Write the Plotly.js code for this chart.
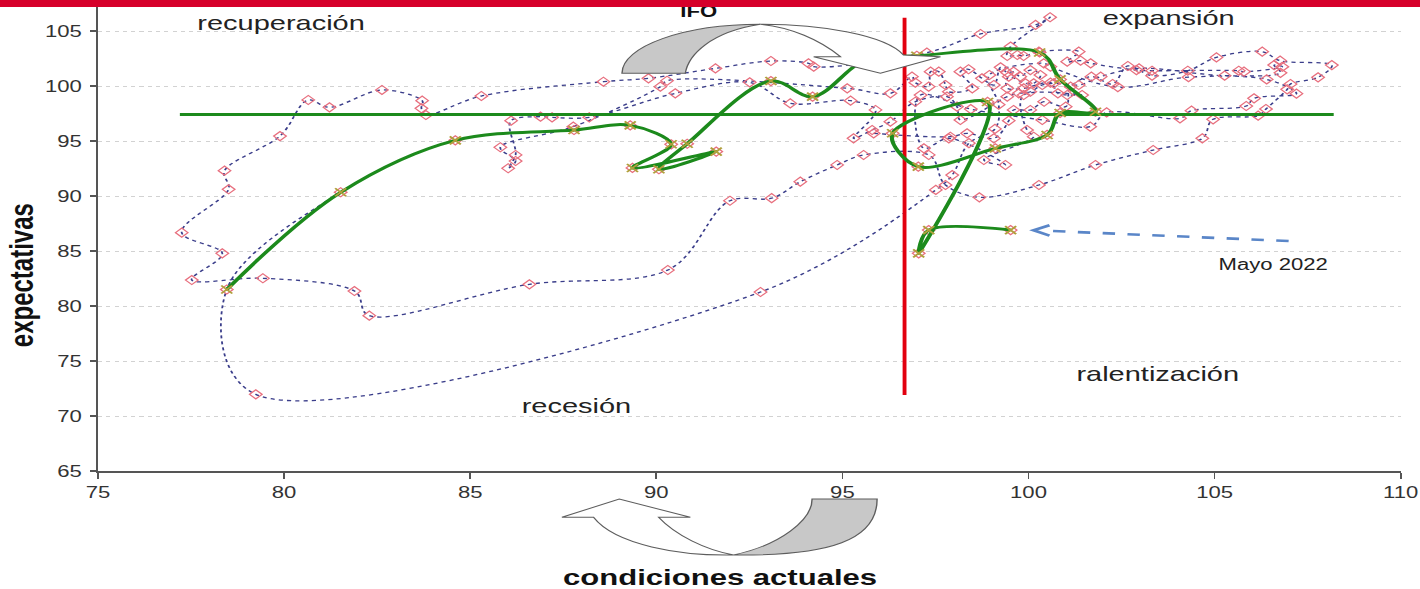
<!DOCTYPE html>
<html><head><meta charset="utf-8">
<script src="https://cdn.plot.ly/plotly-3.0.1.min.js"></script>
<style>
html,body{margin:0;padding:0;background:#fff;overflow:hidden;}
#wrap{position:absolute;left:0;top:0;width:1420px;height:589px;overflow:hidden;background:#fff;}
#plot{position:absolute;left:0;top:0;transform-origin:0 0;}
#bar{position:absolute;left:0;top:0;width:1420px;height:7px;background:#d6002a;z-index:10;}
</style></head><body>
<div id="wrap"><div id="plot"></div><div id="bar"></div></div>
<script>
// ---- data: business climate clock (condiciones actuales vs expectativas) ----
const histCur = [95.84,97.90,98.35,99.07,99.47,99.60,100.05,100.42,101.00,101.13,101.69,102.26,102.67,103.32,104.28,105.05,106.28,106.76,108.15,107.78,107.04,106.95,106.38,106.17,104.96,104.67,103.35,101.80,100.28,98.68,97.77,97.32,95.57,94.86,93.87,93.10,91.98,90.31,86.59,82.29,81.89,79.43,77.52,78.34,77.25,78.51,78.40,79.89,80.65,81.22,82.63,83.71,83.69,83.81,85.30,88.58,89.79,91.59,93.08,94.09,94.23,97.27,98.71,100.19,100.58,99.52,99.43,99.70,99.87,100.28,101.35,101.04,101.40,101.67,102.90,103.32,105.65,105.79,106.82,106.60,106.77,105.27,102.97,101.94,101.35,100.68,100.37,100.05,99.74,99.43,98.17,98.08,97.81,96.96,96.29,95.80,95.30,95.89,95.22,93.60,92.51,90.51,88.20,87.20,86.89,86.10,86.22,86.02,86.22,85.81,87.77,90.11,90.29,95.13,96.29,96.87,96.96,97.32,97.37,97.59,97.77,97.86,98.49,98.17,98.39,98.75,99.07,99.25,99.43,99.60,99.78,100.05,100.32,100.14,99.92,99.47,99.43,99.87,100.59,100.79,101.04,101.44,99.87,99.96,100.14,98.80,99.38,97.86,97.19,97.10,98.45,100.37,101.66,102.10,104.07,104.38,105.85,106.06,107.20,106.40,104.30,102.40,100.59,100.41,98.95,99.20,99.10,98.40,97.95,97.51,92.80,79.24];
const histExp = [95.70,95.39,95.70,95.24,96.85,97.82,97.82,98.57,98.12,99.94,100.85,100.18,101.82,100.94,101.39,102.60,103.12,102.30,101.90,100.79,100.18,99.70,97.91,97.30,96.97,95.24,94.18,92.82,91.00,89.88,91.00,93.73,93.73,92.82,91.30,89.80,89.57,83.27,81.97,79.12,81.36,82.52,82.36,84.79,86.67,90.61,92.30,95.45,98.73,98.06,99.64,98.67,97.97,97.36,99.09,100.39,100.70,101.60,102.27,102.06,101.76,103.03,104.73,105.55,106.25,103.58,102.73,102.82,102.73,103.12,103.12,102.21,102.30,102.06,101.45,101.39,101.39,101.30,101.75,101.90,101.20,100.94,101.60,100.85,100.09,100.24,100.09,99.48,99.33,99.03,96.91,98.12,99.03,98.57,96.76,96.00,95.24,97.82,98.67,98.42,100.33,99.33,97.15,97.15,97.21,96.85,93.73,92.52,93.18,94.43,96.30,99.94,100.48,99.79,99.33,100.85,100.30,99.94,101.30,101.30,100.09,99.48,99.79,101.30,101.52,100.70,100.09,101.70,101.21,101.30,100.85,101.45,101.00,100.24,100.24,100.85,99.79,99.79,100.30,99.33,99.18,99.18,99.18,96.00,95.39,93.27,92.82,95.24,94.33,99.18,97.90,96.91,96.30,97.60,97.06,97.76,98.18,98.88,99.30,100.60,100.80,99.90,101.76,102.06,101.00,98.30,96.10,94.80,91.90,90.55,81.27,71.97];
// last 25 months (highlighted, ending May 2022)
const recentCur = [78.46,81.52,84.60,87.79,89.30,90.40,89.36,91.61,90.07,90.83,93.08,94.20,95.60,97.00,100.30,100.85,101.80,100.85,100.50,99.11,97.04,96.35,98.90,97.05,97.32,99.52];
const recentExp = [81.50,90.34,95.06,96.00,96.42,94.70,92.55,94.04,92.43,94.75,100.45,99.03,102.30,102.75,103.05,100.60,97.66,97.55,95.55,94.33,92.67,95.70,98.55,84.79,86.90,86.90];
// reference levels
const avgExp = 97.4, avgExpSpan = [77.2, 108.2];
const avgCur = 96.67, avgCurSpan = [71.9, 106.2];
const xTicks = [75,80,85,90,95,100,105,110];
const yTicks = [65,70,75,80,85,90,95,100,105];
const quadrantLabels = ['recuperación','expansión','recesión','ralentización'];
const lastLabel = 'Mayo 2022';
const xTitle = 'condiciones actuales', yTitle = 'expectativas', chartTitle = 'IFO';

// ---- geometry (final pixels) ----
const S = 1.38;
const W0 = 1420 / S;
const PL = 98, PR = 1400, PT = 7, PB = 471;
const fx = p => (p - PL) / (PR - PL);
const fy = p => (PB - p) / (PB - PT);
const P = (x, y) => fx(x).toFixed(5) + ',' + fy(y).toFixed(5);
const FONT = 'Liberation Sans, Arial, sans-serif';

const traces = [
  {x: histCur.concat(recentCur), y: histExp.concat(recentExp), type:'scatter', mode:'lines+markers',
   line:{shape:'spline', smoothing:1, dash:'dot', color:'#3a3d8a', width:1.3},
   marker:{symbol:'diamond-open', size:7, color:'#e8707f', line:{width:1.1}}, hoverinfo:'skip'},
  {x: avgExpSpan, y:[avgExp, avgExp], type:'scatter', mode:'lines', line:{color:'#1c8a1c', width:3}, hoverinfo:'skip'},
  {x:[avgCur, avgCur], y: avgCurSpan, type:'scatter', mode:'lines', line:{color:'#e2000f', width:2.8}, hoverinfo:'skip'},
  {x: recentCur, y: recentExp, type:'scatter', mode:'lines+markers',
   line:{shape:'spline', smoothing:1, color:'#1c8a1c', width:3},
   marker:{symbol:'x-thin', size:8, color:'#b0a03c', line:{color:'#b0a03c', width:1.6}}, hoverinfo:'skip'}
];

const ann = (text, x, y, size, extra) => Object.assign({text, x:fx(x), y:fy(y), xref:'paper', yref:'paper',
  showarrow:false, xanchor:'center', yanchor:'middle', font:{family:FONT, size, color:'#222'}}, extra||{});

const annotations = [
  ann(quadrantLabels[0], 281, 22, 21),
  ann(quadrantLabels[1], 1168, 17, 21),
  ann(quadrantLabels[2], 576, 405, 21),
  ann(quadrantLabels[3], 1157, 373, 21),
  ann(lastLabel, 1272, 264, 16),
  ann('<b>' + xTitle + '</b>', 720, 577, 22.5, {font:{family:FONT, size:22.5, color:'#111'}}),
  ann('<b>' + yTitle + '</b>', 21, 275, 24, {textangle:-90, font:{family:FONT, size:24, color:'#111'}}),
  ann('<b>' + chartTitle + '</b>', 698, 1, 16, {yanchor:'top', font:{family:FONT, size:16, color:'#111'}})
];

const arrowLine = {color:'#5d5d5d', width:1};
const shapes = [
  // top curved arrow
  {type:'path', xref:'paper', yref:'paper', layer:'above', fillcolor:'#c8c8c8', line:arrowLine,
   path:`M ${P(621.7,73.3)} C ${P(621.7,46.2)} ${P(683.8,24.3)} ${P(760,24.3)} C ${P(710,32)} ${P(688,55)} ${P(685,73.3)} Z`},
  {type:'path', xref:'paper', yref:'paper', layer:'above', fillcolor:'#ffffff', line:arrowLine,
   path:`M ${P(760,24.3)} C ${P(820,24)} ${P(885,35)} ${P(903,55)} L ${P(940,56.7)} L ${P(880,73.3)} L ${P(813.3,56.7)} L ${P(840,56.7)} C ${P(820,40)} ${P(790,27)} ${P(760,24.3)} Z`},
  // bottom curved arrow
  {type:'path', xref:'paper', yref:'paper', layer:'above', fillcolor:'#ffffff', line:arrowLine,
   path:`M ${P(733.3,555)} C ${P(680,556)} ${P(615,545)} ${P(593.3,517.3)} L ${P(561.7,517.3)} L ${P(619,499)} L ${P(690,517.3)} L ${P(658.3,517.3)} C ${P(675,535)} ${P(705,550)} ${P(733.3,555)} Z`},
  {type:'path', xref:'paper', yref:'paper', layer:'above', fillcolor:'#c8c8c8', line:arrowLine,
   path:`M ${P(811.7,499)} L ${P(876.7,499)} C ${P(876.7,540)} ${P(830,556)} ${P(733.3,555)} C ${P(780,545)} ${P(811.7,520)} ${P(811.7,499)} Z`},
  // blue dashed pointer to last month
  {type:'line', xref:'paper', yref:'paper', layer:'above', x0:fx(1288), y0:fy(241), x1:fx(1042), y1:fy(230.6),
   line:{color:'#5a86c8', width:2.6, dash:'dash'}},
  {type:'path', xref:'paper', yref:'paper', layer:'above', line:{color:'#5a86c8', width:2.6},
   path:`M ${P(1049,225.3)} L ${P(1033,230.2)} L ${P(1049,235.6)}`}
];

const axisCommon = {showline:true, linecolor:'#555', linewidth:1.5, ticks:'outside', ticklen:6, tickwidth:1.2,
  tickcolor:'#555', zeroline:false, tickfont:{family:FONT, size:16, color:'#333'}};

const layout = {
  width: W0, height: 589,
  margin: {l: PL / S, r: (1420 - PR) / S, t: PT, b: 589 - PB, pad: 0},
  paper_bgcolor:'rgba(0,0,0,0)', plot_bgcolor:'#ffffff', showlegend:false,
  xaxis: Object.assign({}, axisCommon, {range:[75,110], tickvals:xTicks, showgrid:false}),
  yaxis: Object.assign({}, axisCommon, {range:[65, 65 + (PB - PT) / 11], tickvals:yTicks, showgrid:true,
    gridcolor:'#d2d2d2', griddash:'dot', gridwidth:1, ticklabelstandoff:3, ticklen:4}),
  annotations, shapes
};

const el = document.getElementById('plot');
el.style.width = W0 + 'px';
el.style.height = '589px';
el.style.transform = 'scaleX(' + S + ')';
Plotly.newPlot(el, traces, layout, {staticPlot:true, displayModeBar:false});
</script>
</body></html>
